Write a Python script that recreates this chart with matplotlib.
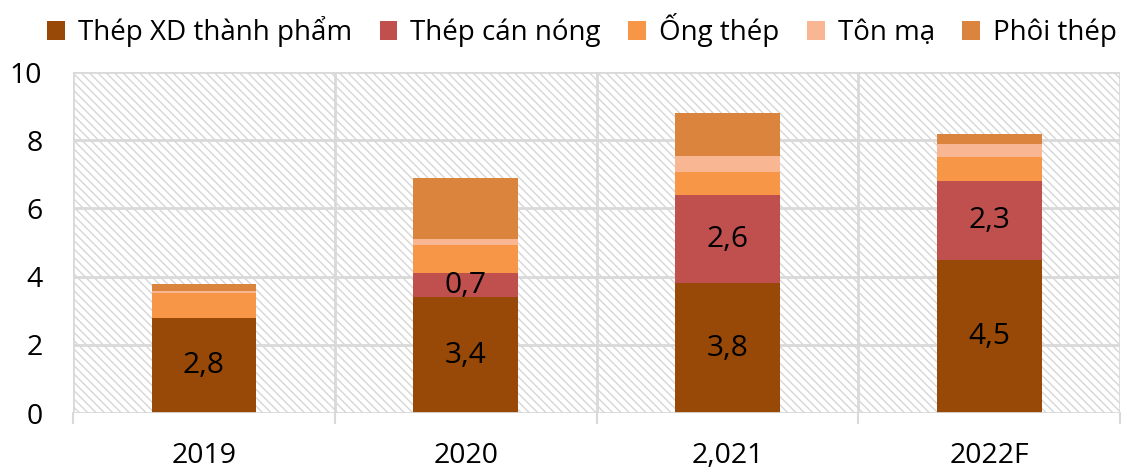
import numpy as np
import matplotlib.pyplot as plt
from matplotlib.patches import Rectangle

plt.rcParams['font.family'] = ['Open Sans', 'DejaVu Sans']
plt.rcParams['hatch.linewidth'] = 1.0

# data
years = ['2019', '2020', '2,021', '2022F']
thep_xd = [2.8, 3.4, 3.8, 4.5]
thep_can_nong = [0.0, 0.7, 2.6, 2.3]
ong_thep = [0.72, 0.82, 0.68, 0.71]
ton_ma = [0.07, 0.19, 0.45, 0.37]
phoi_thep = [0.2, 1.79, 1.28, 0.31]

series = [
    ('Thép XD thành phẩm', thep_xd, '#984807'),
    ('Thép cán nóng', thep_can_nong, '#C0504D'),
    ('Ống thép', ong_thep, '#F79646'),
    ('Tôn mạ', ton_ma, '#F9B692'),
    ('Phôi thép', phoi_thep, '#DB843D'),
]
labelled = ['Thép XD thành phẩm', 'Thép cán nóng']

fig = plt.figure(figsize=(11.28, 4.68), dpi=100)
ax = fig.add_axes([0.0647, 0.1175, 0.9283, 0.7285])

# hatched background
ax.add_patch(Rectangle((0, 0), 1, 1, transform=ax.transAxes, facecolor='white',
                       edgecolor='#d6d6d6', hatch='\\\\\\\\', lw=0, zorder=0))

x = np.arange(len(years))
bottom = np.zeros(len(years))
for name, vals, color in series:
    vals = np.array(vals)
    bars = ax.bar(x, vals, 0.4, bottom=bottom, color=color, label=name, zorder=3)
    if name in labelled:
        for b, v in zip(bars, vals):
            if v > 0:
                ax.text(b.get_x() + b.get_width() / 2, b.get_y() + v / 2,
                        ('%.1f' % v).replace('.', ','), ha='center', va='center',
                        fontsize=21.5, color='black', zorder=4)
    bottom += vals

ax.set_xlim(-0.5, 3.5)
ax.set_ylim(0, 10)
ax.set_yticks([0, 2, 4, 6, 8, 10])
ax.set_xticks(x)
ax.set_xticklabels(years, fontsize=20.5)
ax.tick_params(axis='y', labelsize=20.5, length=0, pad=22)
ax.tick_params(axis='x', length=0, pad=21)

# grid
for yv in [2, 4, 6, 8, 10]:
    ax.axhline(yv, color='#d9d9d9', lw=2, zorder=1)
for xv in [-0.5, 0.5, 1.5, 2.5, 3.5]:
    ax.axvline(xv, color='#d9d9d9', lw=2, zorder=1)
    ax.plot([xv, xv], [0, -0.3], color='#d9d9d9', lw=1.5, clip_on=False)
ax.axhline(0, color='#d9d9d9', lw=2, zorder=5)

for s in ax.spines.values():
    s.set_visible(False)

handles, labels = ax.get_legend_handles_labels()
fig.legend(handles, labels, loc='center', bbox_to_anchor=(0.516, 0.935), ncol=5,
           frameon=False, fontsize=20, handlelength=0.64, handleheight=0.64,
           handletextpad=0.46, columnspacing=1.0, borderpad=0, borderaxespad=0)

fig.savefig('out.png', dpi=100)
